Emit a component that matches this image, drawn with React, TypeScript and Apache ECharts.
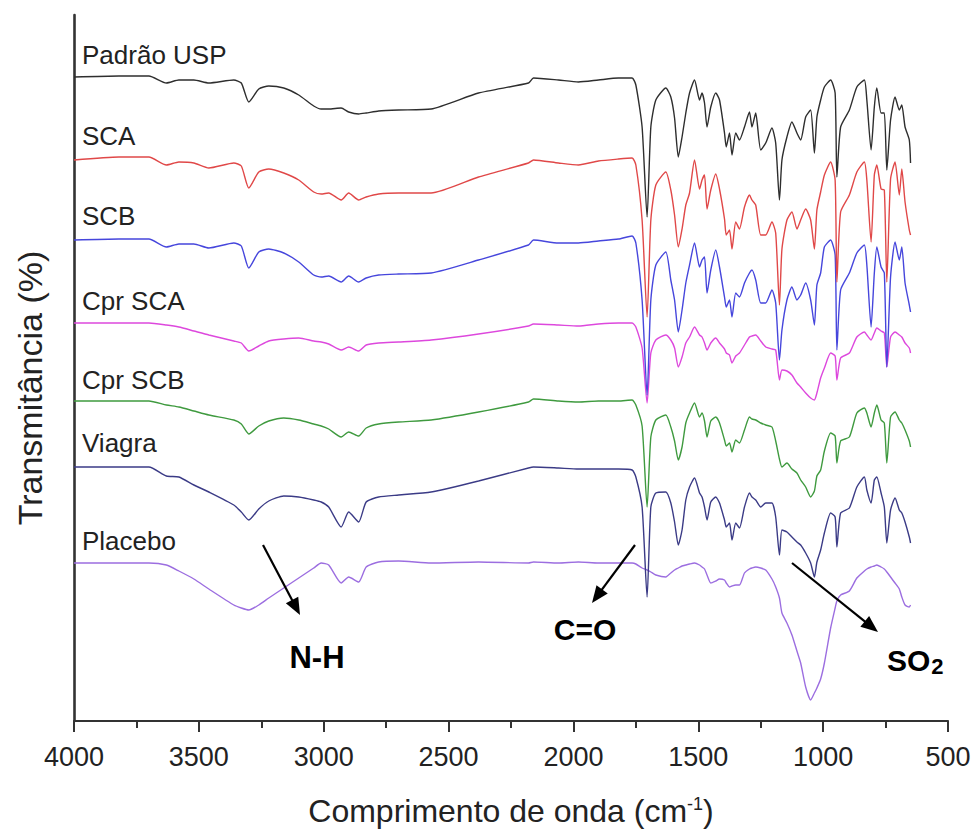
import React, { useEffect, useRef } from "react";
import * as echarts from "echarts";

// Wavenumber grid (cm-1) shared by all spectra
const wavenumbers = [
  4000, 3820, 3700, 3630, 3580, 3520, 3460, 3360, 3330, 3300, 3260, 3220, 3160, 3100, 3040, 3010, 2980, 2930, 2900, 2860, 2830, 2780, 2700, 2570, 2380, 2180, 2160, 2060, 1980, 1900, 1820, 1765, 1750,
  1725, 1705, 1690, 1670, 1630, 1610, 1595, 1580, 1565, 1550, 1535, 1515, 1495, 1485, 1475, 1465, 1450, 1430, 1415, 1395, 1388, 1375, 1365, 1350, 1335, 1315, 1295, 1285, 1270, 1250, 1230, 1205, 1190, 1175, 1165, 1145, 1125, 1105, 1090, 1070, 1050, 1035, 1025, 1010, 995, 970, 952, 945, 930, 895, 865, 835, 825, 808, 795, 785, 768, 755, 745, 730, 712, 695, 685, 672, 655, 650,
];

// Spectrum names (top to bottom) and their vertical offsets (arbitrary transmittance units)
const names = ["Padrão USP", "SCA", "SCB", "Cpr SCA", "Cpr SCB", "Viagra", "Placebo"];
const offsets = [644, 561, 481, 398, 320, 254, 158];
const colors = ["#2e2e2e", "#e04848", "#4646dc", "#dd48dd", "#3f9a3f", "#3b3b86", "#9c6ee0"];

// Transmittance drop below each spectrum's baseline, at each wavenumber
const padraoUSP = [
  0, -1, -1, 6, 3, 3, 6, 3, 6, 25, 12, 9, 11, 18, 29, 32, 32, 31, 35, 37, 36, 34, 33, 32, 16, 6, 1, 3, 5, 3, 1, 1, 8,
  50, 140, 50, 23, 11, 20, 41, 80, 60, 36, 16, 3, 23, 16, 26, 50, 30, 16, 23, 56, 70, 56, 78, 56, 63, 50, 35, 50, 36, 73, 66, 51, 66, 123, 83, 60, 45, 56, 63, 40, 33, 76, 40, 23, 10, 3, 16, 100, 50, 33, 10, 3, 23, 73, 30, 11, 36, 36, 93, 43, 20, 33, 28, 50, 63, 86,
];
const sca = [
  0, -3, -3, 5, 2, 3, 8, 3, 6, 28, 12, 9, 13, 20, 32, 34, 33, 40, 33, 40, 37, 34, 33, 33, 17, 3, 0, 3, 5, 1, -1, -2, 5,
  60, 157, 60, 25, 12, 30, 55, 87, 69, 45, 33, 0, 29, 20, 15, 49, 30, 14, 29, 59, 75, 70, 89, 62, 69, 47, 35, 40, 45, 75, 75, 62, 73, 145, 89, 60, 52, 69, 60, 49, 60, 89, 50, 32, 15, 2, 20, 122, 52, 35, 12, 2, 20, 82, 15, 5, 29, 30, 122, 19, 2, 35, 9, 42, 70, 75,
];
const scb = [
  0, -1, -1, 7, 4, 4, 8, 3, 6, 28, 12, 9, 13, 22, 35, 37, 36, 42, 36, 42, 38, 35, 34, 33, 20, 5, 0, 3, 3, 1, -1, -4, 3,
  60, 155, 60, 25, 12, 40, 60, 92, 70, 43, 25, 3, 27, 20, 17, 53, 30, 10, 27, 57, 67, 60, 77, 53, 57, 43, 33, 30, 40, 63, 63, 50, 63, 120, 90, 60, 47, 60, 55, 43, 60, 85, 45, 33, 7, 0, 15, 110, 50, 33, 13, 5, 25, 87, 33, 7, 27, 33, 127, 37, 2, 20, 7, 43, 65, 72,
];
const cprSCA = [
  0, 0, 0, 2, 4, 8, 12, 18, 20, 28, 23, 18, 16, 15, 18, 19, 21, 27, 24, 28, 22, 20, 19, 17, 11, 3, 1, 2, 3, 1, 0, 0, 4,
  25, 80, 30, 17, 12, 17, 25, 44, 34, 20, 14, 4, 12, 14, 20, 27, 20, 15, 20, 26, 30, 32, 40, 33, 30, 22, 14, 13, 12, 18, 24, 26, 27, 57, 47, 48, 52, 60, 64, 70, 75, 77, 70, 55, 45, 30, 33, 57, 35, 30, 14, 9, 12, 17, 10, 5, 8, 10, 44, 14, 9, 12, 14, 20, 25, 30,
];
const cprSCB = [
  0, 0, 0, 4, 6, 10, 14, 19, 23, 33, 25, 20, 17, 19, 23, 25, 28, 36, 31, 35, 27, 23, 21, 19, 11, 1, -2, 0, 1, 0, 0, -1, 4,
  25, 106, 36, 19, 14, 26, 40, 59, 46, 22, 12, 2, 16, 12, 20, 36, 20, 16, 22, 39, 45, 42, 51, 39, 42, 29, 16, 18, 19, 22, 24, 26, 40, 58, 66, 62, 68, 72, 79, 86, 96, 90, 75, 69, 50, 32, 35, 62, 40, 36, 12, 7, 12, 26, 12, 4, 19, 22, 62, 16, 11, 19, 22, 29, 40, 46,
];
const viagra = [
  0, 0, 0, 9, 10, 18, 25, 38, 45, 53, 42, 34, 29, 30, 33, 35, 40, 60, 45, 55, 35, 30, 28, 25, 14, 1, 0, 1, 2, 2, 2, 3, 10,
  40, 130, 40, 26, 25, 36, 55, 78, 63, 33, 20, 11, 26, 30, 40, 53, 35, 30, 36, 53, 60, 56, 73, 56, 61, 40, 26, 30, 33, 40, 36, 36, 50, 88, 63, 65, 70, 75, 78, 86, 96, 110, 95, 83, 66, 46, 50, 80, 46, 41, 20, 10, 23, 36, 13, 10, 26, 40, 76, 43, 31, 43, 46, 55, 70, 76,
];
const placebo = [
  0, 0, 0, 2, 8, 16, 26, 42, 45, 47, 42, 35, 25, 15, 5, 0, 2, 20, 14, 19, 4, -1, -2, 0, -1, 0, -1, 0, -1, 0, 0, 0, 1,
  5, 7, 9, 12, 14, 10, 7, 5, 3, 2, 1, 0, 2, 4, 6, 12, 20, 18, 16, 17, 20, 24, 23, 22, 22, 10, 6, 5, 4, 5, 7, 16, 24, 35, 50, 60, 72, 88, 100, 124, 137, 130, 125, 116, 100, 65, 45, 38, 32, 28, 15, 8, 6, 4, 3, 2, 4, 6, 9, 14, 20, 26, 34, 42, 44, 42,
];
const depths = [padraoUSP, sca, scb, cprSCA, cprSCB, viagra, placebo];

const xTicks = { min: 500, max: 4000, interval: 500 };

const FONT = "'Liberation Sans', Arial, Helvetica, sans-serif";

function arrow(x1: number, y1: number, x2: number, y2: number) {
  const dx = x2 - x1;
  const dy = y2 - y1;
  const len = Math.sqrt(dx * dx + dy * dy);
  const ux = dx / len;
  const uy = dy / len;
  const hl = 17;
  const hw = 7;
  const bx = x2 - ux * hl;
  const by = y2 - uy * hl;
  return [
    {
      type: "line",
      shape: { x1, y1, x2: bx + ux * 2, y2: by + uy * 2 },
      style: { stroke: "#000", lineWidth: 2.2 },
      z: 100,
    },
    {
      type: "polygon",
      shape: {
        points: [
          [x2, y2],
          [bx - uy * hw, by + ux * hw],
          [bx + uy * hw, by - ux * hw],
        ],
      },
      style: { fill: "#000" },
      z: 100,
    },
  ];
}

function label(text: string, x: number, y: number) {
  return {
    type: "text",
    x,
    y,
    z: 100,
    style: {
      text,
      fill: "#222",
      fontSize: 26,
      fontFamily: FONT,
      align: "left",
      textAlign: "left",
      verticalAlign: "middle",
      textVerticalAlign: "middle",
    },
  };
}

function bold(text: string, x: number, y: number, size: number) {
  return {
    type: "text",
    x,
    y,
    z: 100,
    style: {
      text,
      fill: "#000",
      fontSize: size,
      fontWeight: "bold",
      fontFamily: FONT,
      align: "center",
      textAlign: "center",
      verticalAlign: "middle",
      textVerticalAlign: "middle",
    },
  };
}

const labelY = [55, 136, 216, 301, 380, 443, 541];

export default function App() {
  const ref = useRef<HTMLDivElement>(null);

  useEffect(() => {
    if (!ref.current) return;
    const chart = echarts.init(ref.current, undefined, { renderer: "svg", width: 972, height: 831 });

    const series = names.map((name, s) => ({
      name,
      type: "line",
      showSymbol: false,
      symbol: "none",
      smooth: 0.2,
      lineStyle: { color: colors[s], width: 1.4 },
      itemStyle: { color: colors[s] },
      data: wavenumbers.map((w, i) => [w, offsets[s] - depths[s][i]]),
      z: 10 - s,
    }));

    const graphic: any[] = [
      ...names.map((n, i) => label(n, 82, labelY[i])),
      {
        type: "text",
        x: 30,
        y: 388,
        rotation: Math.PI / 2,
        z: 100,
        style: {
          text: "Transmitância (%)",
          fill: "#222",
          fontSize: 34,
          fontFamily: FONT,
          align: "center",
          textAlign: "center",
          verticalAlign: "middle",
          textVerticalAlign: "middle",
        },
      },
      ...arrow(263, 545, 300, 615),
      ...arrow(635, 545, 592, 603),
      ...arrow(792, 563, 878, 632),
      bold("N-H", 317, 657, 31),
      bold("C=O", 585, 629, 30),
      {
        type: "text",
        x: 887,
        y: 661,
        z: 100,
        style: {
          text: "{a|SO}{b|2}",
          fill: "#000",
          fontFamily: FONT,
          fontWeight: "bold",
          fontSize: 30,
          align: "left",
          textAlign: "left",
          verticalAlign: "middle",
          textVerticalAlign: "middle",
          rich: {
            a: { fontSize: 30, fontWeight: "bold", fontFamily: FONT, fill: "#000", verticalAlign: "top" },
            b: { fontSize: 22, fontWeight: "bold", fontFamily: FONT, fill: "#000", verticalAlign: "bottom", padding: [10, 0, 0, 1] },
          },
        },
      },
    ];

    chart.setOption({
      animation: false,
      backgroundColor: "#ffffff",
      grid: { left: 74, width: 874, top: 15, height: 706, containLabel: false, outerBoundsMode: "none" },
      xAxis: {
        type: "value",
        inverse: true,
        min: xTicks.min,
        max: xTicks.max,
        interval: xTicks.interval,
        name: "Comprimento de onda (cm{sup|-1})",
        nameLocation: "middle",
        nameGap: 74,
        nameTextStyle: {
          fontSize: 32,
          color: "#222",
          fontFamily: FONT,
          rich: {
            sup: { fontSize: 18, color: "#222", fontFamily: FONT, verticalAlign: "top", padding: [0, 0, 12, 0] },
          },
        },
        axisLine: { show: true, lineStyle: { color: "#333", width: 2.2 } },
        axisTick: { show: true, length: 11, lineStyle: { color: "#333", width: 2 } },
        minorTick: { show: true, splitNumber: 2, length: 7, lineStyle: { color: "#333", width: 2 } },
        axisLabel: {
          fontSize: 27,
          color: "#222",
          fontFamily: FONT,
          margin: 22,
          formatter: (v: number) => String(v),
        },
        splitLine: { show: false },
      },
      yAxis: {
        type: "value",
        min: 0,
        max: 706,
        axisLine: { show: true, lineStyle: { color: "#333", width: 2.6 } },
        axisTick: { show: false },
        axisLabel: { show: false },
        splitLine: { show: false },
      },
      series,
      graphic,
    });

    return () => chart.dispose();
  }, []);

  return (
    <div
      ref={ref}
      style={{ position: "absolute", left: 0, top: 0, width: 972, height: 831, background: "#fff" }}
    />
  );
}
